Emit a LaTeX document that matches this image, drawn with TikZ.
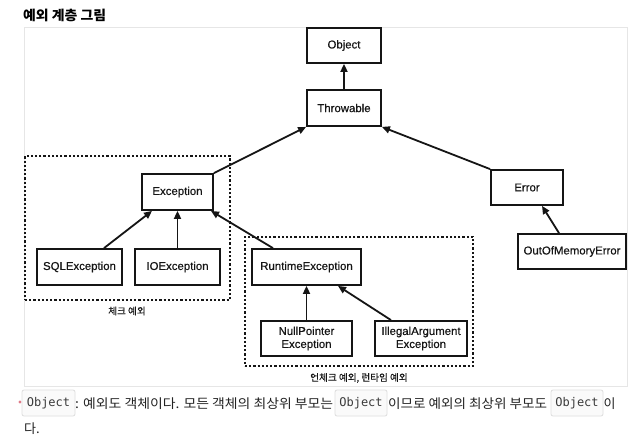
\documentclass[tikz,border=0pt]{standalone}
\usepackage{fontspec}
\usepackage{graphicx}
\setmainfont{Liberation Sans}
\setmonofont{DejaVu Sans Mono}
\newfontfamily\kr{Noto Sans CJK KR}
\newfontfamily\boxfont[FakeBold=0.5]{Liberation Sans}
\newfontfamily\krmed[FakeBold=0.4]{Noto Sans CJK KR}
\usetikzlibrary{arrows.meta,calc}
\definecolor{framec}{HTML}{E6E6E6}
\definecolor{codeborder}{HTML}{DEDEDE}
\definecolor{codebg}{HTML}{FAFAFA}
\definecolor{codetext}{HTML}{3A3A3A}
\definecolor{bodytext}{HTML}{222222}
\definecolor{bulletc}{HTML}{E07A88}
\definecolor{ink}{HTML}{151515}
\begin{document}
\begin{tikzpicture}[x=1pt,y=-1pt,
  cls/.style={draw=ink, line width=1.8pt, inner sep=0pt, text=ink,
    font=\boxfont\fontsize{11.4}{13}\selectfont, align=center},
  grp/.style={draw=ink, line width=2.5pt, dash pattern=on 2.2pt off 2pt,
    inner sep=0pt},
  inh/.style={draw=ink, line width=1.8pt, -{Triangle[length=8pt,width=7pt]}},
  grplbl/.style={font=\krmed\fontsize{9.6}{11}\selectfont, inner sep=0pt, text=ink},
  code/.style={draw=codeborder, fill=codebg, rounded corners=2pt, inner sep=0pt,
    font=\ttfamily\fontsize{12}{14}\selectfont, text=codetext, line width=0.8pt},
  body/.style={font=\kr\fontsize{13}{15}\selectfont, inner sep=0pt,
    anchor=base west, text=bodytext}]
\useasboundingbox (0,0) rectangle (631,442);
\fill[white] (0,0) rectangle (631,442);

% title
\node[font=\kr\bfseries\fontsize{13.5}{15}\selectfont, anchor=base west,
  inner sep=0pt, text=black] (title) at (23,20.5)
  {\resizebox{83pt}{\height}{예외 계층 그림}};

% image frame
\node[draw=framec, line width=1pt, inner sep=0pt, minimum width=603pt,
  minimum height=359pt] (frame) at (325.5,206.5) {};

% groups
\node[grp, minimum width=205pt, minimum height=144pt] (checked) at (127.5,228) {};
\node[grp, minimum width=228pt, minimum height=129pt] (unchecked) at (359,301.5) {};
\node[grplbl] (chklbl) at (127,311) {체크 예외};
\node[grplbl] (unchklbl) at (359,378) {언체크 예외, 런타임 예외};

% classes
\node[cls, minimum width=74pt, minimum height=35pt] (obj) at (344,45.5) {Object};
\node[cls, minimum width=74pt, minimum height=36pt] (thr) at (344,108) {Throwable};
\node[cls, minimum width=71pt, minimum height=36pt] (exc) at (177.5,192) {Exception};
\node[cls, minimum width=72pt, minimum height=35pt] (err) at (527,187.5) {Error};
\node[cls, minimum width=85pt, minimum height=36pt] (sql) at (79.5,267) {SQLException};
\node[cls, minimum width=85pt, minimum height=36pt] (ioe) at (177.5,267) {IOException};
\node[cls, minimum width=109pt, minimum height=36pt] (rte) at (306.5,267) {RuntimeException};
\node[cls, minimum width=108pt, minimum height=35pt] (oom) at (572,251.5) {OutOfMemoryError};
\node[cls, minimum width=91pt, minimum height=35pt] (npe) at (306.5,338.5) {NullPointer\\Exception};
\node[cls, minimum width=92pt, minimum height=35pt] (iae) at (421,338.5) {IllegalArgument\\Exception};

% inheritance arrows
\draw[inh] (thr.north) -- (obj.south);
\draw[inh] (exc.north east) -- (thr.south west);
\draw[inh] (err.north west) -- (thr.south east);
\draw[inh] ([xshift=24.5pt]sql.north) -- ([xshift=-25.5pt]exc.south);
\draw[inh] (ioe.north) -- (exc.south);
\draw[inh] ([xshift=-33.5pt]rte.north) -- ([xshift=33.5pt]exc.south);
\draw[inh] ([xshift=-13pt]oom.north) -- ([xshift=15pt]err.south);
\draw[inh] (npe.north) -- (rte.south);
\draw[inh] ([xshift=-30pt]iae.north) -- ([xshift=31.5pt]rte.south);

% bullet line
\node[circle, fill=bulletc, inner sep=0pt, minimum size=3.4pt] (bul) at (20,402) {};
\node[code, minimum width=53pt, minimum height=26pt] (c1) at (48.5,403) {Object};
\node[body] (t1) at (75,408) {\resizebox{258pt}{\height}{: 예외도 객체이다. 모든 객체의 최상위 부모는}};
\node[code, minimum width=52pt, minimum height=26pt] (c2) at (361,403) {Object};
\node[body] (t2) at (388,408) {\resizebox{159pt}{\height}{이므로 예외의 최상위 부모도}};
\node[code, minimum width=52pt, minimum height=26pt] (c3) at (577,403) {Object};
\node[body] (t3) at (603.5,408) {이};
\node[body] (t4) at (24,433) {다.};
\end{tikzpicture}
\end{document}
